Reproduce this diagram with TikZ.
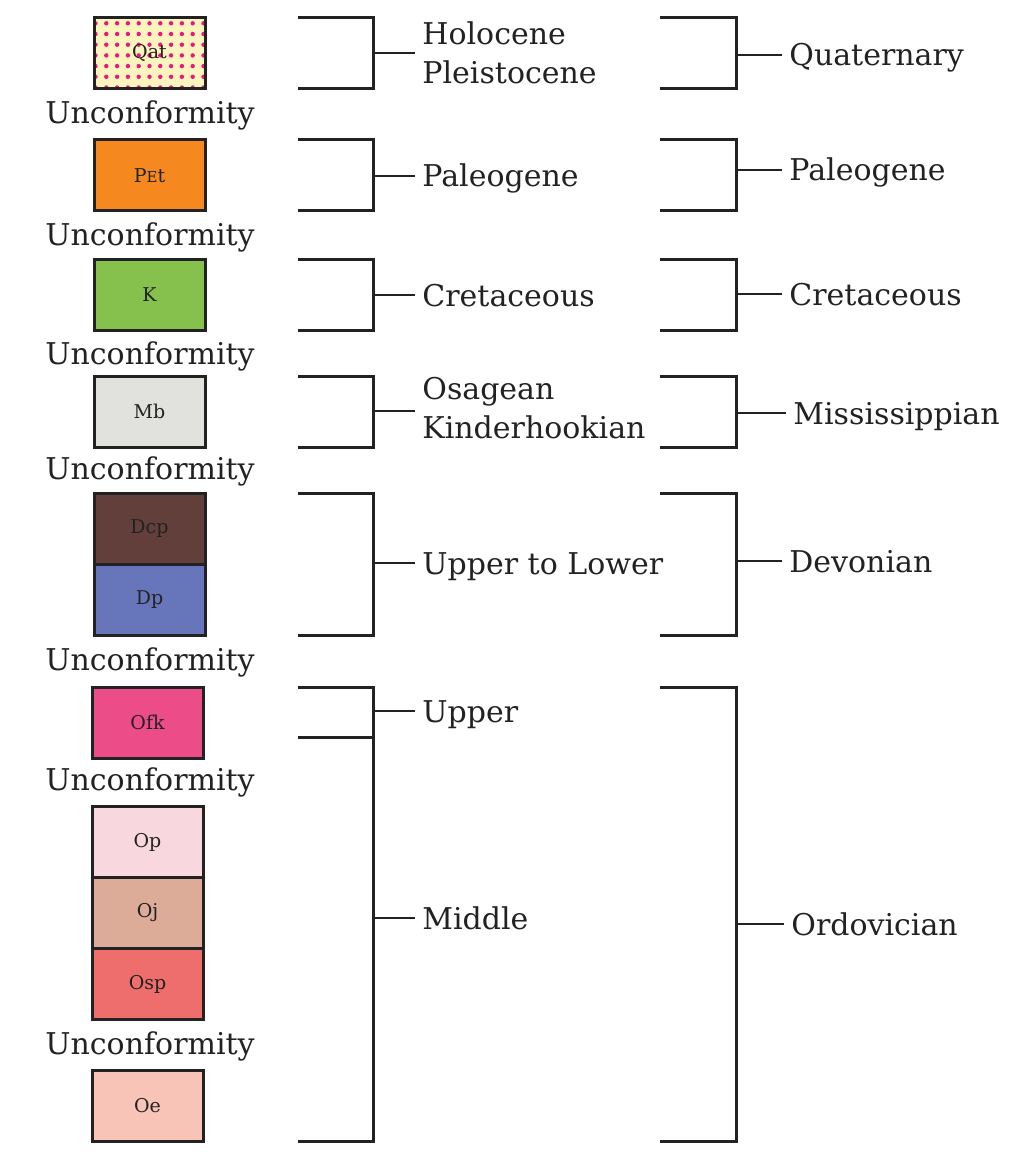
\documentclass[tikz,border=0pt]{standalone}
\usepackage{fontspec}
\setmainfont{DejaVu Serif}
\usepackage{xcolor}
\usetikzlibrary{positioning}

\definecolor{qatfill}{HTML}{FCF4BE}
\definecolor{qatdot}{HTML}{E5197F}
\definecolor{petfill}{HTML}{F5891F}
\definecolor{kfill}{HTML}{86C14E}
\definecolor{mbfill}{HTML}{E1E2DE}
\definecolor{dcpfill}{HTML}{633F3B}
\definecolor{dpfill}{HTML}{6776BB}
\definecolor{ofkfill}{HTML}{EC4C87}
\definecolor{opfill}{HTML}{F8D7DF}
\definecolor{ojfill}{HTML}{DDAC98}
\definecolor{ospfill}{HTML}{EE6E6E}
\definecolor{oefill}{HTML}{F8C4B8}
\definecolor{ink}{HTML}{222222}

\begin{document}
\begin{tikzpicture}[
  x=0.5pt, y=-0.5pt,
  unit/.style={draw=ink, line width=1.5pt, outer sep=0pt, inner sep=0pt, minimum width=55.5pt, minimum height=35.5pt, text=ink, font=\fontsize{9.5}{11}\selectfont},
  unc/.style={text=ink, inner sep=0pt, text height=11pt, text depth=0pt, font=\fontsize{15}{19.5}\selectfont},
  lbl/.style={anchor=west, align=left, inner sep=3.5pt, text=ink, text height=11pt, text depth=0pt, font=\fontsize{15}{19.5}\selectfont},
  lbltwo/.style={lbl, text height=30.5pt},
  brk/.style={draw=ink, line width=1.5pt},
  stub/.style={draw=ink, line width=1.2pt}
]
  \useasboundingbox (0,0) rectangle (1009,1155);

  % rock units
  \node[unit, fill=qatfill] (qat) at (149.5,53) {};
  \begin{scope}
    \clip (qat.north west) rectangle (qat.south east);
    \foreach \i in {0,...,10}
      \foreach \j in {0,...,6}
        \fill[qatdot] (95.5+\i*10.8, 23.3+\j*10.7) circle (1.1pt);
  \end{scope}
  \draw[ink, line width=1.5pt] (qat.north west) rectangle (qat.south east);
  \node[text=ink, font=\fontsize{9.5}{11}\selectfont] at (qat) {Qat};
  \node[unit, fill=petfill] (pet) at (149.5,175.5) {P{\fontsize{7.5}{9}\selectfont E}t};
  \node[unit, fill=kfill] (k) at (149.5,294.5) {K};
  \node[unit, fill=mbfill] (mb) at (149.5,411.5) {Mb};
  \node[unit, fill=dcpfill] (dcp) at (149.5,529) {Dcp};
  \node[unit, fill=dpfill, below=0pt of dcp] (dp) {Dp};
  \node[unit, fill=ofkfill] (ofk) at (147.5,722.5) {Ofk};
  \node[unit, fill=opfill] (op) at (147.5,842) {Op};
  \node[unit, fill=ojfill, below=0pt of op] (oj) {Oj};
  \node[unit, fill=ospfill, below=0pt of oj] (osp) {Osp};
  \node[unit, fill=oefill] (oe) at (147.5,1105.5) {Oe};

  % unconformities
  \foreach \y/\n in {113/1, 234/2, 353/3, 468/4, 659/5, 779/6, 1043/7}
    \node[unc] (unc\n) at (150,\y) {Unconformity};

  % series / epochs
  \draw[brk] (298,18) -| (373,89) -- (298,89);
  \draw[brk] (298,140) -| (373,211) -- (298,211);
  \draw[brk] (298,259) -| (373,330) -- (298,330);
  \draw[brk] (298,376) -| (373,447) -- (298,447);
  \draw[brk] (298,493) -| (373,635) -- (298,635);
  \draw[brk] (298,687) -| (373,1141) -- (298,1141);
  \draw[brk] (298,737) -- (373,737);

  \node[lbltwo] (holo) at (415,53) {Holocene\\Pleistocene};
  \node[lbl] (paleo1) at (415,176) {Paleogene};
  \node[lbl] (creta1) at (415,295) {Cretaceous};
  \node[lbltwo] (osag) at (415,408) {Osagean\\Kinderhookian};
  \node[lbl] (upplow) at (415,563) {Upper to Lower};
  \node[lbl] (upper) at (415,711) {Upper};
  \node[lbl] (middle) at (415,918) {Middle};

  \draw[stub] (373,53) -- (holo.west);
  \draw[stub] (373,176) -- (paleo1.west);
  \draw[stub] (373,295) -- (creta1.west);
  \draw[stub] (373,411) -- (osag.west |- 0,411);
  \draw[stub] (373,563) -- (upplow.west);
  \draw[stub] (373,711) -- (upper.west);
  \draw[stub] (373,918) -- (middle.west);

  % systems / periods
  \draw[brk] (660,18) -| (736,89) -- (660,89);
  \draw[brk] (660,140) -| (736,211) -- (660,211);
  \draw[brk] (660,259) -| (736,330) -- (660,330);
  \draw[brk] (660,376) -| (736,447) -- (660,447);
  \draw[brk] (660,493) -| (736,635) -- (660,635);
  \draw[brk] (660,687) -| (736,1141) -- (660,1141);

  \node[lbl] (quat) at (782,55) {Quaternary};
  \node[lbl] (paleo2) at (782,170) {Paleogene};
  \node[lbl] (creta2) at (782,294) {Cretaceous};
  \node[lbl] (miss) at (786,413) {Mississippian};
  \node[lbl] (devo) at (782,561) {Devonian};
  \node[lbl] (ordo) at (784,924) {Ordovician};

  \draw[stub] (736,55) -- (quat.west);
  \draw[stub] (736,170) -- (paleo2.west);
  \draw[stub] (736,294) -- (creta2.west);
  \draw[stub] (736,413) -- (miss.west);
  \draw[stub] (736,561) -- (devo.west);
  \draw[stub] (736,924) -- (ordo.west);
\end{tikzpicture}
\end{document}
